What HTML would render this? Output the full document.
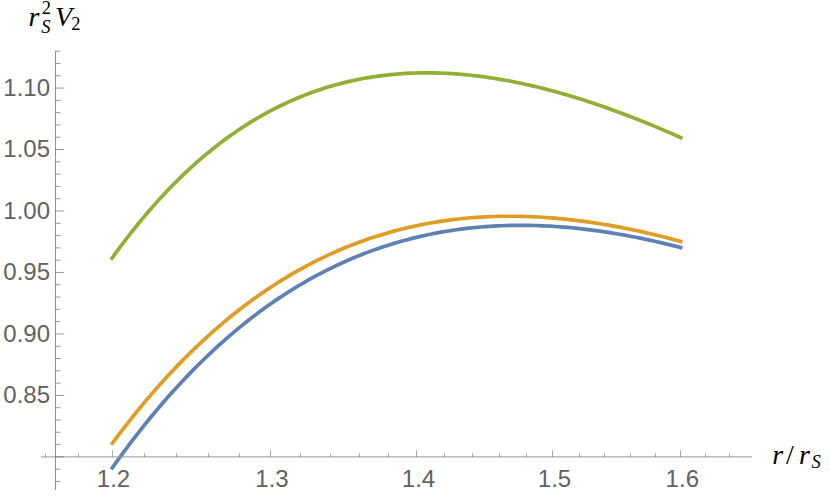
<!DOCTYPE html>
<html><head><meta charset="utf-8"><title>plot</title>
<style>html,body{margin:0;padding:0;background:#fff;overflow:hidden}svg{display:block}body{font-family:"Liberation Sans",sans-serif}</style>
</head><body>
<svg width="830" height="496" viewBox="0 0 830 496">
<title>Plot of r_S^2 V_2 versus r/r_S</title>
<desc>Three curves (blue, orange, green) on a log-scaled x axis with ticks 1.2, 1.3, 1.4, 1.5, 1.6 and y axis ticks 0.85, 0.90, 0.95, 1.00, 1.05, 1.10. Axis labels: r_S^2 V_2 (vertical) and r/r_S (horizontal).</desc>
<rect width="830" height="496" fill="#ffffff"/>
<path d="M111.30 469.20 L115.41 463.41 L119.52 457.71 L123.63 452.10 L127.73 446.58 L131.84 441.15 L135.95 435.81 L140.06 430.55 L144.17 425.37 L148.28 420.28 L152.39 415.28 L156.49 410.36 L160.60 405.52 L164.71 400.76 L168.82 396.08 L172.93 391.48 L177.04 386.96 L181.15 382.52 L185.26 378.15 L189.36 373.87 L193.47 369.66 L197.58 365.52 L201.69 361.46 L205.80 357.48 L209.91 353.56 L214.02 349.72 L218.12 345.96 L222.23 342.26 L226.34 338.63 L230.45 335.08 L234.56 331.59 L238.67 328.17 L242.78 324.82 L246.88 321.54 L250.99 318.32 L255.10 315.17 L259.21 312.09 L263.32 309.07 L267.43 306.11 L271.54 303.22 L275.65 300.39 L279.75 297.63 L283.86 294.92 L287.97 292.28 L292.08 289.69 L296.19 287.17 L300.30 284.71 L304.41 282.30 L308.51 279.95 L312.62 277.66 L316.73 275.43 L320.84 273.26 L324.95 271.14 L329.06 269.07 L333.17 267.06 L337.27 265.11 L341.38 263.21 L345.49 261.36 L349.60 259.56 L353.71 257.82 L357.82 256.13 L361.93 254.49 L366.04 252.90 L370.14 251.36 L374.25 249.87 L378.36 248.42 L382.47 247.03 L386.58 245.69 L390.69 244.39 L394.80 243.14 L398.90 241.94 L403.01 240.78 L407.12 239.67 L411.23 238.61 L415.34 237.59 L419.45 236.61 L423.56 235.68 L427.66 234.79 L431.77 233.94 L435.88 233.14 L439.99 232.38 L444.10 231.66 L448.21 230.98 L452.32 230.34 L456.43 229.74 L460.53 229.18 L464.64 228.67 L468.75 228.19 L472.86 227.75 L476.97 227.35 L481.08 226.98 L485.19 226.66 L489.29 226.37 L493.40 226.11 L497.51 225.90 L501.62 225.72 L505.73 225.57 L509.84 225.46 L513.95 225.39 L518.05 225.35 L522.16 225.34 L526.27 225.37 L530.38 225.43 L534.49 225.52 L538.60 225.64 L542.71 225.80 L546.82 225.99 L550.92 226.21 L555.03 226.47 L559.14 226.75 L563.25 227.06 L567.36 227.41 L571.47 227.78 L575.58 228.18 L579.68 228.61 L583.79 229.07 L587.90 229.56 L592.01 230.08 L596.12 230.62 L600.23 231.20 L604.34 231.80 L608.44 232.42 L612.55 233.08 L616.66 233.76 L620.77 234.46 L624.88 235.19 L628.99 235.95 L633.10 236.73 L637.21 237.54 L641.31 238.37 L645.42 239.22 L649.53 240.10 L653.64 241.00 L657.75 241.93 L661.86 242.87 L665.97 243.85 L670.07 244.84 L674.18 245.86 L678.29 246.89 L682.40 247.95" fill="none" stroke="#5e81b5" stroke-width="3.69" stroke-linejoin="round" stroke-linecap="butt"/>
<path d="M111.30 444.73 L115.41 439.19 L119.52 433.73 L123.63 428.36 L127.73 423.08 L131.84 417.88 L135.95 412.77 L140.06 407.74 L144.17 402.80 L148.28 397.93 L152.39 393.15 L156.49 388.45 L160.60 383.83 L164.71 379.28 L168.82 374.82 L172.93 370.43 L177.04 366.12 L181.15 361.89 L185.26 357.73 L189.36 353.65 L193.47 349.64 L197.58 345.71 L201.69 341.84 L205.80 338.05 L209.91 334.33 L214.02 330.69 L218.12 327.11 L222.23 323.60 L226.34 320.16 L230.45 316.79 L234.56 313.48 L238.67 310.25 L242.78 307.08 L246.88 303.97 L250.99 300.93 L255.10 297.95 L259.21 295.04 L263.32 292.19 L267.43 289.40 L271.54 286.68 L275.65 284.01 L279.75 281.41 L283.86 278.87 L287.97 276.38 L292.08 273.96 L296.19 271.59 L300.30 269.29 L304.41 267.03 L308.51 264.84 L312.62 262.70 L316.73 260.62 L320.84 258.59 L324.95 256.62 L329.06 254.70 L333.17 252.83 L337.27 251.02 L341.38 249.26 L345.49 247.55 L349.60 245.89 L353.71 244.28 L357.82 242.73 L361.93 241.22 L366.04 239.76 L370.14 238.35 L374.25 236.99 L378.36 235.68 L382.47 234.41 L386.58 233.20 L390.69 232.02 L394.80 230.90 L398.90 229.82 L403.01 228.78 L407.12 227.79 L411.23 226.84 L415.34 225.94 L419.45 225.08 L423.56 224.26 L427.66 223.49 L431.77 222.75 L435.88 222.06 L439.99 221.41 L444.10 220.80 L448.21 220.23 L452.32 219.70 L456.43 219.21 L460.53 218.76 L464.64 218.34 L468.75 217.97 L472.86 217.63 L476.97 217.33 L481.08 217.06 L485.19 216.84 L489.29 216.64 L493.40 216.49 L497.51 216.37 L501.62 216.28 L505.73 216.23 L509.84 216.22 L513.95 216.23 L518.05 216.28 L522.16 216.37 L526.27 216.48 L530.38 216.63 L534.49 216.81 L538.60 217.03 L542.71 217.27 L546.82 217.54 L550.92 217.85 L555.03 218.19 L559.14 218.55 L563.25 218.95 L567.36 219.37 L571.47 219.82 L575.58 220.31 L579.68 220.82 L583.79 221.36 L587.90 221.92 L592.01 222.52 L596.12 223.14 L600.23 223.78 L604.34 224.46 L608.44 225.16 L612.55 225.88 L616.66 226.63 L620.77 227.41 L624.88 228.21 L628.99 229.04 L633.10 229.89 L637.21 230.76 L641.31 231.66 L645.42 232.58 L649.53 233.53 L653.64 234.49 L657.75 235.48 L661.86 236.50 L665.97 237.53 L670.07 238.59 L674.18 239.67 L678.29 240.77 L682.40 241.89" fill="none" stroke="#e19c24" stroke-width="3.69" stroke-linejoin="round" stroke-linecap="butt"/>
<path d="M110.90 259.77 L115.01 254.04 L119.12 248.42 L123.23 242.91 L127.35 237.52 L131.46 232.25 L135.57 227.08 L139.68 222.02 L143.79 217.07 L147.90 212.22 L152.02 207.48 L156.13 202.85 L160.24 198.32 L164.35 193.88 L168.46 189.55 L172.57 185.32 L176.68 181.19 L180.80 177.15 L184.91 173.20 L189.02 169.36 L193.13 165.60 L197.24 161.93 L201.35 158.36 L205.46 154.88 L209.58 151.48 L213.69 148.17 L217.80 144.95 L221.91 141.81 L226.02 138.75 L230.13 135.78 L234.25 132.89 L238.36 130.08 L242.47 127.36 L246.58 124.71 L250.69 122.13 L254.80 119.64 L258.91 117.22 L263.03 114.87 L267.14 112.60 L271.25 110.41 L275.36 108.28 L279.47 106.23 L283.58 104.24 L287.69 102.33 L291.81 100.48 L295.92 98.71 L300.03 96.99 L304.14 95.35 L308.25 93.77 L312.36 92.25 L316.48 90.80 L320.59 89.41 L324.70 88.08 L328.81 86.82 L332.92 85.61 L337.03 84.46 L341.14 83.38 L345.26 82.35 L349.37 81.37 L353.48 80.46 L357.59 79.60 L361.70 78.79 L365.81 78.04 L369.93 77.34 L374.04 76.70 L378.15 76.11 L382.26 75.57 L386.37 75.08 L390.48 74.64 L394.59 74.25 L398.71 73.91 L402.82 73.62 L406.93 73.37 L411.04 73.18 L415.15 73.02 L419.26 72.92 L423.37 72.86 L427.49 72.85 L431.60 72.87 L435.71 72.95 L439.82 73.06 L443.93 73.22 L448.04 73.42 L452.16 73.66 L456.27 73.94 L460.38 74.26 L464.49 74.62 L468.60 75.02 L472.71 75.46 L476.82 75.94 L480.94 76.45 L485.05 77.01 L489.16 77.59 L493.27 78.22 L497.38 78.88 L501.49 79.57 L505.61 80.30 L509.72 81.06 L513.83 81.86 L517.94 82.69 L522.05 83.55 L526.16 84.44 L530.27 85.37 L534.39 86.33 L538.50 87.32 L542.61 88.34 L546.72 89.39 L550.83 90.46 L554.94 91.57 L559.05 92.71 L563.17 93.87 L567.28 95.07 L571.39 96.29 L575.50 97.53 L579.61 98.81 L583.72 100.11 L587.84 101.44 L591.95 102.79 L596.06 104.17 L600.17 105.57 L604.28 107.00 L608.39 108.45 L612.50 109.93 L616.62 111.42 L620.73 112.95 L624.84 114.49 L628.95 116.06 L633.06 117.65 L637.17 119.26 L641.28 120.89 L645.40 122.55 L649.51 124.22 L653.62 125.92 L657.73 127.63 L661.84 129.37 L665.95 131.12 L670.07 132.89 L674.18 134.69 L678.29 136.50 L682.40 138.33" fill="none" stroke="#8fb032" stroke-width="3.69" stroke-linejoin="round" stroke-linecap="butt"/>
<g stroke="#666666" stroke-width="0.72" fill="none">
<path d="M41.00 456.90 H752.00" stroke="#969696" stroke-width="1.00"/>
<path d="M55.50 51.10 V490.00"/>
</g>
<g stroke="#666666" stroke-width="0.68" fill="none">
<path d="M55.50 481.46 h5.00M55.50 469.16 h5.00M55.50 456.87 h8.30M55.50 444.58 h5.00M55.50 432.28 h5.00M55.50 419.99 h5.00M55.50 407.69 h5.00M55.50 395.40 h8.30M55.50 383.11 h5.00M55.50 370.81 h5.00M55.50 358.52 h5.00M55.50 346.22 h5.00M55.50 333.93 h8.30M55.50 321.64 h5.00M55.50 309.34 h5.00M55.50 297.05 h5.00M55.50 284.75 h5.00M55.50 272.46 h8.30M55.50 260.17 h5.00M55.50 247.87 h5.00M55.50 235.58 h5.00M55.50 223.28 h5.00M55.50 210.99 h8.30M55.50 198.70 h5.00M55.50 186.40 h5.00M55.50 174.11 h5.00M55.50 161.81 h5.00M55.50 149.52 h8.30M55.50 137.23 h5.00M55.50 124.93 h5.00M55.50 112.64 h5.00M55.50 100.34 h5.00M55.50 88.05 h8.30M55.50 75.76 h5.00M55.50 63.46 h5.00M55.50 51.17 h5.00"/>
<path d="M45.50 456.90 v-3.50M78.50 456.90 v-3.50M112.50 456.90 v-6.70M144.50 456.90 v-3.50M176.50 456.90 v-3.50M208.50 456.90 v-3.50M239.50 456.90 v-3.50M270.50 456.90 v-6.70M300.50 456.90 v-3.50M330.50 456.90 v-3.50M359.50 456.90 v-3.50M388.50 456.90 v-3.50M416.50 456.90 v-6.70M444.50 456.90 v-3.50M472.50 456.90 v-3.50M499.50 456.90 v-3.50M526.50 456.90 v-3.50M552.50 456.90 v-6.70M579.50 456.90 v-3.50M604.50 456.90 v-3.50M630.50 456.90 v-3.50M655.50 456.90 v-3.50M680.50 456.90 v-6.70M705.50 456.90 v-3.50M729.50 456.90 v-3.50" stroke-width="0.55"/>
</g>
<g font-family="'Liberation Sans', sans-serif" font-size="24" fill="#626262">
<g text-anchor="end">
<text x="50" y="403.3">0.85</text>
<text x="50" y="341.83">0.90</text>
<text x="50" y="280.36">0.95</text>
<text x="50" y="218.89">1.00</text>
<text x="50" y="157.42">1.05</text>
<text x="50" y="95.95">1.10</text>
</g>
<g text-anchor="middle">
<text x="113.5" y="487.2">1.2</text>
<text x="272" y="487.2">1.3</text>
<text x="418.5" y="487.2">1.4</text>
<text x="554.5" y="487.2">1.5</text>
<text x="682.3" y="487.2">1.6</text>
</g>
</g>
<g font-family="'Liberation Serif', serif" fill="#000">
<text x="28.5" y="25.7" font-size="28" font-style="italic">r</text>
<text x="41.8" y="14.3" font-size="18.5">2</text>
<text x="41.2" y="32.5" font-size="18.5" font-style="italic">S</text>
<text x="55" y="25.7" font-size="28" font-style="italic">V</text>
<text x="71.2" y="29.8" font-size="18.5">2</text>
</g>
<g font-family="'Liberation Serif', serif" fill="#000">
<text x="772.3" y="463.9" font-size="28" font-style="italic">r</text>
<text x="786" y="463.9" font-size="28">/</text>
<text x="799" y="463.9" font-size="28" font-style="italic">r</text>
<text x="811.5" y="468" font-size="18.5" font-style="italic">S</text>
</g>
</svg>
</body></html>
